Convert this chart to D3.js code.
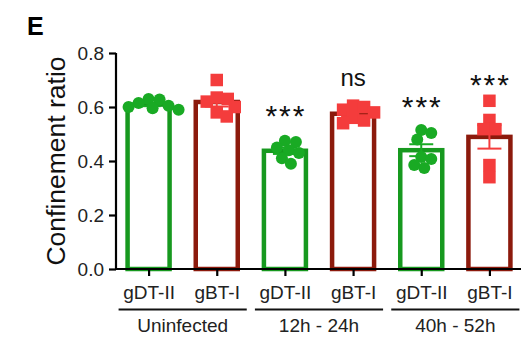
<!DOCTYPE html>
<html>
<head>
<meta charset="utf-8">
<script src="https://cdn.jsdelivr.net/npm/d3@7"></script>
<style>
  html, body { margin: 0; padding: 0; background: #fff; }
  svg { display: block; font-family: "Liberation Sans", Arial, Helvetica, sans-serif; }
</style>
</head>
<body>
<svg id="chart" width="525" height="337"></svg>
<script>
// Confinement ratio per T-cell type and time window
const categories = ["gDT-II", "gBT-I", "gDT-II", "gBT-I", "gDT-II", "gBT-I"];
const groups = ["Uninfected", "12h - 24h", "40h - 52h"];
const cellType = ["gDT", "gBT", "gDT", "gBT", "gDT", "gBT"];

// individual measurements for each column
const uninfGDT = [0.63, 0.628, 0.615, 0.605, 0.60, 0.595, 0.59];
const uninfGBT = [0.70, 0.635, 0.63, 0.62, 0.60, 0.58, 0.565];
const earlyGDT = [0.475, 0.47, 0.45, 0.44, 0.43, 0.41, 0.39];
const earlyGBT = [0.605, 0.60, 0.59, 0.58, 0.56, 0.55, 0.54];
const lateGDT = [0.515, 0.504, 0.48, 0.415, 0.407, 0.385, 0.374];
const lateGBT = [0.623, 0.552, 0.518, 0.518, 0.385, 0.34];
const columns = [uninfGDT, uninfGBT, earlyGDT, earlyGBT, lateGDT, lateGBT];

// significance marks vs. uninfected, and the ratio level each sits at
const sigLabels = ["", "", "***", "ns", "***", "***"];
const sigLevels = [null, null, 0.528, 0.678, 0.563, 0.646];

const yTicks = [0.0, 0.2, 0.4, 0.6, 0.8];

const colors = {
  gDT: { bar: "#17991f", point: "#19aa24" },
  gBT: { bar: "#8c1a0c", point: "#f43c3c" }
};

const svg = d3.select("#chart");

const x = d3.scalePoint()
  .domain(d3.range(categories.length))
  .range([114.5, 523.5])
  .padding(0.5);

const y = d3.scaleLinear().domain([0, 0.8]).range([269, 53]);

const stats = columns.map(vals => {
  const m = d3.mean(vals);
  const sem = d3.deviation(vals) / Math.sqrt(vals.length);
  return { mean: m, sem: sem };
});

// panel letter
svg.append("text")
  .attr("x", 27).attr("y", 35)
  .attr("font-size", 25).attr("font-weight", "bold")
  .text("E");

// y axis
const yAxis = d3.axisLeft(y)
  .tickValues(yTicks)
  .tickFormat(d3.format(".1f"))
  .tickSize(7)
  .tickPadding(5);

const gy = svg.append("g")
  .attr("transform", "translate(116,0)")
  .call(yAxis);
gy.select(".domain").attr("stroke-width", 2.2).attr("d", `M0,${y(0.8)}V${y(0)}`);
gy.selectAll(".tick line").attr("stroke-width", 2.2);
gy.selectAll(".tick text")
  .attr("font-size", 19)
  .attr("fill", "#222")
  .attr("font-family", "Liberation Sans, Arial, sans-serif");

svg.append("text")
  .attr("transform", `translate(65,${(y(0) + y(0.8)) / 2}) rotate(-90)`)
  .attr("text-anchor", "middle")
  .attr("font-size", 26.5)
  .attr("fill", "#111")
  .text("Confinement ratio");

// bars (outlined, no fill)
const barW = 42;
svg.append("g").selectAll("rect")
  .data(stats)
  .join("rect")
  .attr("x", (d, i) => x(i) - barW / 2)
  .attr("y", d => y(d.mean))
  .attr("width", barW)
  .attr("height", d => y(0) - y(d.mean))
  .attr("fill", "none")
  .attr("stroke", (d, i) => colors[cellType[i]].bar)
  .attr("stroke-width", 4.5);

// x axis
const xAxis = d3.axisBottom(x)
  .tickFormat(i => categories[i])
  .tickSize(7)
  .tickPadding(10);

const gx = svg.append("g")
  .attr("transform", `translate(0,${y(0)})`)
  .call(xAxis);
gx.select(".domain").attr("stroke-width", 2.2).attr("d", "M116,0H521");
gx.selectAll(".tick line").attr("stroke-width", 2.2);
gx.selectAll(".tick text")
  .attr("font-size", 19)
  .attr("fill", "#222")
  .attr("font-family", "Liberation Sans, Arial, sans-serif");

// group brackets and labels
groups.forEach((g, k) => {
  const x0 = x(2 * k) - 30, x1 = x(2 * k + 1) + 30;
  svg.append("line")
    .attr("x1", x0).attr("x2", x1)
    .attr("y1", 309.5).attr("y2", 309.5)
    .attr("stroke", "#111").attr("stroke-width", 2);
  svg.append("text")
    .attr("x", (x(2 * k) + x(2 * k + 1)) / 2)
    .attr("y", 331.5)
    .attr("text-anchor", "middle")
    .attr("font-size", 19)
    .attr("fill", "#222")
    .text(g);
});

// swarm layout so overlapping points spread sideways
function swarm(vals, size) {
  const placed = [];
  const order = vals.map((v, i) => i).sort((a, b) => vals[b] - vals[a]);
  const out = new Array(vals.length);
  order.forEach(i => {
    const py = y(vals[i]);
    let dx = 0;
    for (let step = 0; step < 60; step++) {
      const cand = step === 0 ? 0 : (step % 2 ? 1 : -1) * Math.ceil(step / 2);
      const ok = placed.every(p => Math.hypot(p.dx - cand, p.py - py) >= size * 0.85);
      if (ok) { dx = cand; break; }
    }
    placed.push({ dx, py });
    out[i] = { dx, py };
  });
  return out;
}

// error bars (mean ± SEM)
const capW = 12;
const gErr = svg.append("g");
stats.forEach((s, i) => {
  const c = colors[cellType[i]].point;
  const cx = x(i);
  const yt = y(s.mean + s.sem), yb = y(s.mean - s.sem);
  gErr.append("line").attr("x1", cx).attr("x2", cx).attr("y1", yt).attr("y2", yb)
    .attr("stroke", c).attr("stroke-width", 2);
  [yt, yb].forEach(yy => gErr.append("line")
    .attr("x1", cx - capW).attr("x2", cx + capW).attr("y1", yy).attr("y2", yy)
    .attr("stroke", c).attr("stroke-width", 2));
});

// individual points: circles for gDT-II, squares for gBT-I
const r = 6, sq = 12.5;
columns.forEach((vals, i) => {
  const c = colors[cellType[i]].point;
  const g = svg.append("g");
  if (cellType[i] === "gDT") {
    const pos = swarm(vals, 2 * r);
    g.selectAll("circle").data(pos).join("circle")
      .attr("cx", p => x(i) + p.dx)
      .attr("cy", p => p.py)
      .attr("r", r)
      .attr("fill", c);
  } else {
    const pos = swarm(vals, sq);
    g.selectAll("rect").data(pos).join("rect")
      .attr("x", p => x(i) + p.dx - sq / 2)
      .attr("y", p => p.py - sq / 2)
      .attr("width", sq).attr("height", sq)
      .attr("fill", c);
  }
});

// significance annotations
sigLabels.forEach((lab, i) => {
  if (!lab) return;
  const isStars = lab.indexOf("*") >= 0;
  svg.append("text")
    .attr("x", x(i) + (isStars ? 1 : 0))
    .attr("y", y(sigLevels[i]))
    .attr("text-anchor", "middle")
    .attr("font-size", isStars ? 30 : 24)
    .attr("letter-spacing", isStars ? 2 : 0)
    .attr("fill", "#111")
    .text(lab);
});
</script>
</body>
</html>
